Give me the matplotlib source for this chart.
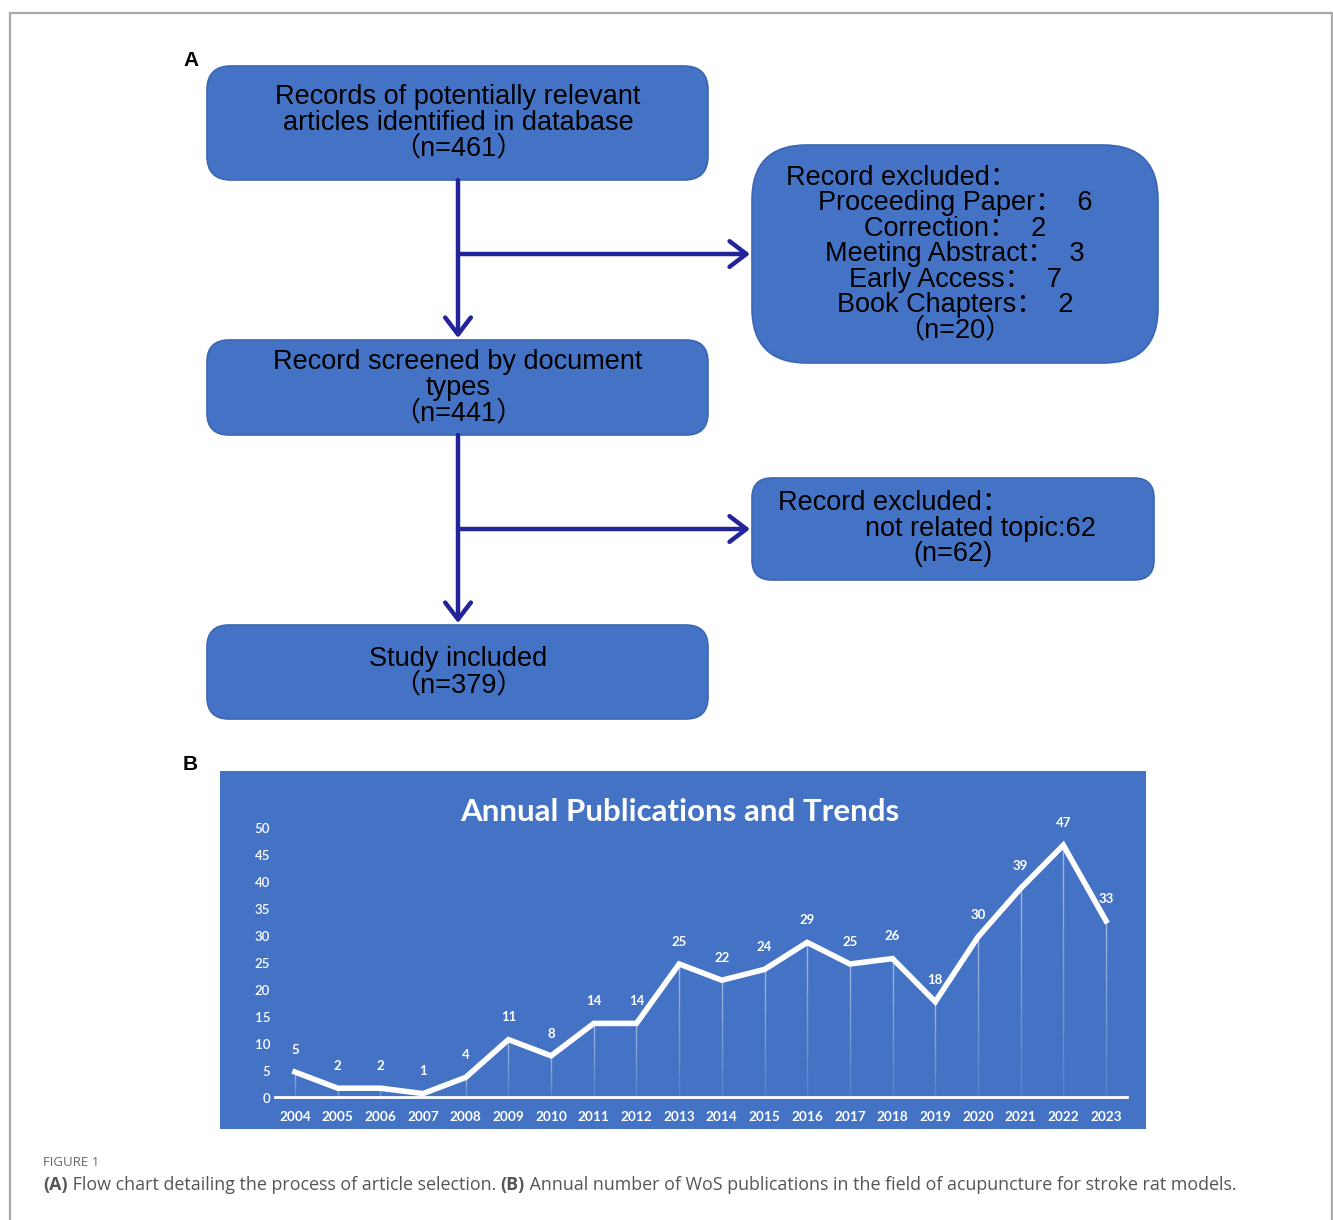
import matplotlib
matplotlib.use("Agg")
import matplotlib.pyplot as plt
from matplotlib.patches import FancyBboxPatch, FancyArrowPatch
from matplotlib.transforms import blended_transform_factory

# ---- data -------------------------------------------------------------
years = list(range(2004, 2024))
publications = [5, 2, 2, 1, 4, 11, 8, 14, 14, 25, 22, 24, 29, 25, 26, 18, 30, 39, 47, 33]
y_ticks = list(range(0, 51, 5))

identified_lines = ["Records of potentially relevant", "articles identified in database", "（n=461）"]
excluded_type_lines = ["Proceeding Paper：  6", "Correction：  2", "Meeting Abstract：  3",
                       "Early Access：  7", "Book Chapters：  2", "（n=20）"]
screened_lines = ["Record screened by document", "types", "（n=441）"]
excluded_topic_label = "Record excluded："
excluded_topic_reason = "not related topic:62"
excluded_topic_count = "(n=62)"
included_lines = ["Study included", "（n=379）"]

chart_title = "Annual Publications and Trends"
caption_head = "FIGURE 1"
caption_parts = [("(A)", "bold"), (" Flow chart detailing the process of article selection. ", "normal"),
                 ("(B)", "bold"), (" Annual number of WoS publications in the field of acupuncture for stroke rat models.", "normal")]

BOX = "#4472C4"
BOX_EDGE = "#3B66B5"
ARROW = "#23239A"
FLOW_FONT = ["Liberation Sans", "Noto Sans CJK SC", "DejaVu Sans"]
CHART_FONT = ["Lato", "DejaVu Sans"]
FLOW_SIZE = 19.5

W, H = 1333, 1220
fig = plt.figure(figsize=(W / 100, H / 100), dpi=100)
base = fig.add_axes([0, 0, 1, 1])
base.set_xlim(0, W)
base.set_ylim(H, 0)
base.axis("off")

# outer frame
base.plot([9.5, 9.5, 1331.5, 1331.5], [H, 13, 13, H], color="#AAAAAA", lw=1.6, solid_joinstyle="miter")


def box(x0, y0, x1, y1, r):
    p = FancyBboxPatch((x0, y0), x1 - x0, y1 - y0,
                       boxstyle=f"round,pad=0,rounding_size={r}",
                       facecolor=BOX, edgecolor=BOX_EDGE, lw=1.2, zorder=2)
    base.add_patch(p)


def lines(x, ys, texts, ha="center", size=FLOW_SIZE):
    for y, t in zip(ys, texts):
        base.text(x, y, t, ha=ha, va="center", fontsize=size, family=FLOW_FONT,
                  color="black", zorder=3)


def arrow(x0, y0, x1, y1):
    a = FancyArrowPatch((x0, y0), (x1, y1),
                        arrowstyle="->,head_length=0.55,head_width=0.42",
                        mutation_scale=22, color=ARROW, lw=3.2,
                        shrinkA=0, shrinkB=0, capstyle="round", joinstyle="round", zorder=4)
    base.add_patch(a)


# ---- panel A: flow chart ---------------------------------------------
base.text(183, 60, "A", fontsize=15, fontweight="bold", family="Liberation Sans", va="center")

box(207, 66, 708, 180, 24)
lines(458, [97, 123, 148], identified_lines)

box(752, 145, 1158, 363, 55)
lines(786, [178], ["Record excluded："], ha="left")
lines(955, [203, 229, 254, 280, 305, 330], excluded_type_lines)

box(207, 340, 708, 435, 22)
lines(458, [362, 388, 413], screened_lines)

box(752, 478, 1154, 580, 20)
lines(778, [503], [excluded_topic_label], ha="left")
lines(980, [529], [excluded_topic_reason])
lines(953, [554], [excluded_topic_count])

box(207, 625, 708, 719, 22)
lines(458, [659, 685], included_lines)

arrow(458, 180, 458, 338)
arrow(458, 254, 750, 254)
arrow(458, 435, 458, 623)
arrow(458, 529, 750, 529)

# ---- panel B: annual publications ------------------------------------
base.text(183, 764, "B", fontsize=15, fontweight="bold", family="Liberation Sans", va="center")

cx0, cx1, cy0, cy1 = 220, 1146, 771, 1129
ax = fig.add_axes([cx0 / W, 1 - cy1 / H, (cx1 - cx0) / W, (cy1 - cy0) / H])
ax.set_facecolor(BOX)
for s in ax.spines.values():
    s.set_visible(False)
ax.set_xticks([])
ax.set_yticks([])

px_year = (1106 - 295) / 19
px_unit = 5.4
ax.set_xlim(2004 - (295 - cx0) / px_year, 2023 + (cx1 - 1106) / px_year)
ax.set_ylim(-(cy1 - 1099) / px_unit, (1099 - cy0) / px_unit)

# faint drop lines from each point down to the axis, fading towards the bottom
for yr, v in zip(years, publications):
    n = 12
    for k in range(n):
        ax.plot([yr, yr], [v * k / n, v * (k + 1) / n], color="white",
                alpha=0.08 + 0.4 * (k + 1) / n, lw=1.0, solid_capstyle="butt", zorder=2)

ax.plot([years[0] - 0.47, years[-1] + 0.5], [0.35, 0.35], color="white", lw=2, zorder=2)
ax.plot(years, publications, color="white", lw=4, solid_joinstyle="miter", zorder=3)

for yr, v in zip(years, publications):
    ax.annotate(str(v), (yr, v), xytext=(0, 16), textcoords="offset points",
                ha="center", va="center", color="white", fontsize=9.5,
                fontweight="bold", family=CHART_FONT, zorder=4)

trans_y = blended_transform_factory(ax.transAxes, ax.transData)
for t in y_ticks:
    ax.text((270 - cx0) / (cx1 - cx0), t, str(t), transform=trans_y, ha="right", va="center",
            color="white", fontsize=9.5, fontweight="semibold", family=CHART_FONT)
for yr in years:
    ax.text(yr, -(1117 - 1099) / px_unit, str(yr), ha="center", va="center",
            color="white", fontsize=9.8, fontweight="bold", family=CHART_FONT)

ax.text((680 - cx0) / (cx1 - cx0), (cy1 - 812) / (cy1 - cy0),
        chart_title, transform=ax.transAxes, ha="center", va="center", color="white",
        fontsize=22.5, fontweight="bold", family=CHART_FONT)

# ---- caption ----------------------------------------------------------
base.text(43, 1162, caption_head, fontsize=9.5, color="#666666", family=["Open Sans"], va="center")

fig.canvas.draw()
renderer = fig.canvas.get_renderer()
x = 43
for txt, wt in caption_parts:
    t = base.text(x, 1185, txt, fontsize=12.85, color="#555555", fontweight=wt,
                  family=["Open Sans"], va="center")
    bb = t.get_window_extent(renderer)
    x += bb.width

fig.savefig("out.png", dpi=100)
